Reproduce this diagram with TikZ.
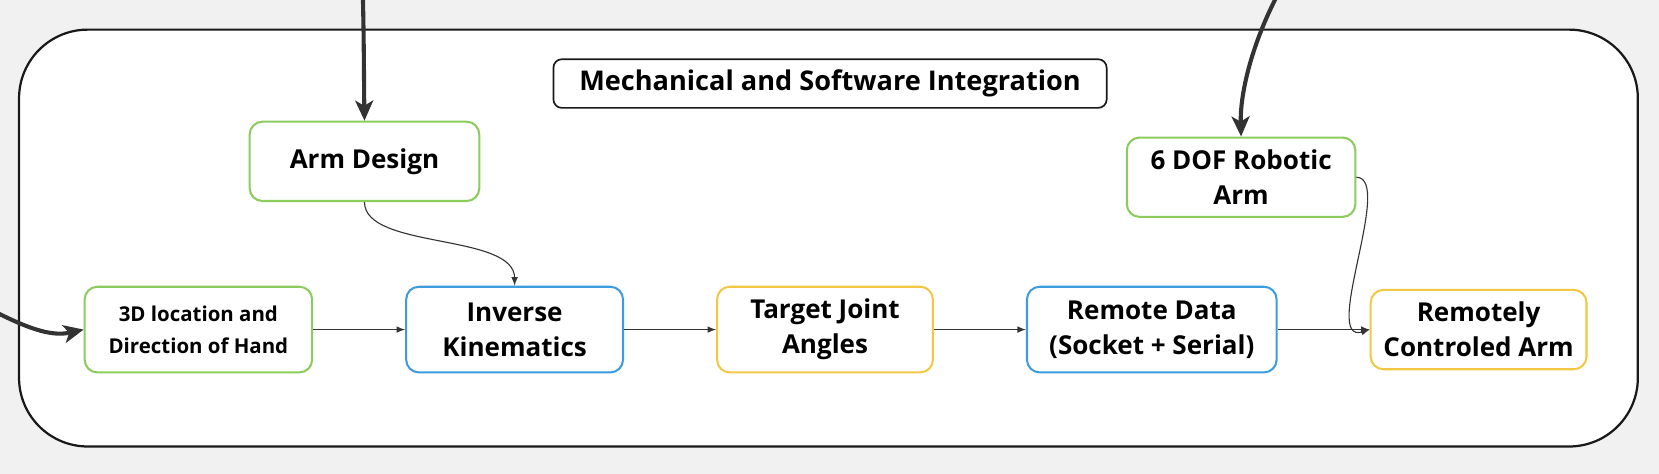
\documentclass[tikz,border=0pt]{standalone}
\usepackage{fontspec}
\setmainfont{Open Sans}
\usepackage{xcolor}
\usepackage{tikz}
\usetikzlibrary{calc,positioning,arrows,arrows.meta}

\definecolor{armgreen}{HTML}{8CCB5E}
\definecolor{armblue}{HTML}{3D9CE0}
\definecolor{armyellow}{HTML}{F2C744}
\definecolor{wiregrey}{HTML}{333333}
\definecolor{pagegrey}{HTML}{F1F1F1}

\begin{document}
\begin{tikzpicture}[x=0.02cm,y=-0.02cm,node distance=1.74cm,
block/.style={
% The shape:
rectangle,rounded corners=0.24cm,
minimum width=4.08cm,minimum height=1.62cm,
% The rest
line width=1.1pt,fill=white,align=center,
font=\bfseries\fontsize{14}{19}\selectfont},
greenblock/.style={block,draw=armgreen},
blueblock/.style={block,draw=armblue},
yellowblock/.style={block,draw=armyellow},
wire/.style={draw=wiregrey,line width=0.6pt,-latex},
fatwire/.style={draw=wiregrey,line width=2.2pt,-{Stealth[length=0.38cm,width=0.34cm,inset=0.1cm]}}]

% page and frame
\fill[pagegrey] (0,0) rectangle (1568,448);
\draw[line width=1.2pt,draw=black!90,fill=white,rounded corners=1.3cm] (18,28) rectangle (1548,422);
\useasboundingbox (0,0) rectangle (1568,448);

\node (Title) [rectangle,rounded corners=0.16cm,draw=black!90,line width=0.9pt,
  minimum width=10.46cm,minimum height=0.92cm,font=\bfseries\fontsize{14.6}{17}\selectfont]
  at (784.5,79) {Mechanical and Software Integration};

\node (ArmDesign) [greenblock,minimum width=4.34cm,minimum height=1.5cm] at (344.5,152.5) {Arm Design};
\node (SixDof) [greenblock,minimum width=4.32cm,minimum height=1.5cm] at (1173,167.5) {6 DOF Robotic\\Arm};

% main row
\node (HandPos) [greenblock,minimum width=4.3cm,font=\bfseries\fontsize{11}{17}\selectfont] at (187.5,311.5) {3D location and\\Direction of Hand};
\node (InvKin) [blueblock,right=of HandPos,minimum width=4.1cm] {Inverse\\Kinematics};
\node (JointAng) [yellowblock,right=of InvKin] {Target Joint\\Angles};
\node (RemData) [blueblock,right=of JointAng,minimum width=4.72cm] {Remote Data\\(Socket + Serial)};
\node (RemArm) [yellowblock,right=of RemData,minimum height=1.5cm] {Remotely\\Controled Arm};

\coordinate (InTop) at (343,-2);
\coordinate (InRight) at (1206,-2);
\coordinate (InLeft) at (-2,296);

\path
(HandPos) edge[wire] (InvKin) % simple edges
(InvKin) edge[wire] (JointAng)
(JointAng) edge[wire] (RemData)
(RemData) edge[wire] (RemArm);

\draw[wire] (ArmDesign.south) .. controls +(0,45) and +(0,-50) .. (InvKin.north);
\draw[wire] (SixDof.east) .. controls (1318,168) and (1248,326) .. (RemArm.west);

\draw[fatwire] (InTop) .. controls (344,40) and (344,80) .. (ArmDesign.north);
\draw[fatwire] (InRight) .. controls (1182,45) and (1172,90) .. (SixDof.north);
\draw[fatwire] (InLeft) .. controls (30,312) and (50,318) .. (HandPos.west);

\end{tikzpicture}
\end{document}
